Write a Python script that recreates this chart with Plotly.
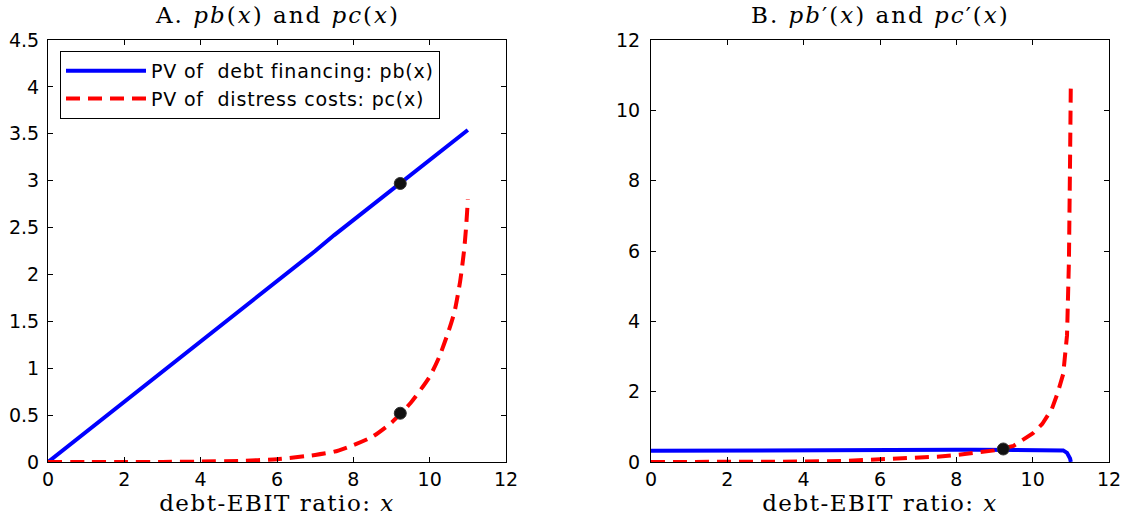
import plotly.graph_objects as go

# ---------------- data ----------------
x_ratio = [0, 1, 2, 3, 4, 5, 6, 7, 7.5, 8, 8.5, 9, 9.5, 10, 10.25, 10.5,
           10.65, 10.8, 10.9, 10.95, 10.98, 11.0]

# Panel A: present values
pb_vals = [0, 0.32, 0.64, 0.97, 1.29, 1.61, 1.93, 2.25, 2.42, 2.58, 2.74,
           2.90, 3.06, 3.22, 3.30, 3.38, 3.43, 3.48, 3.51, 3.52, 3.53, 3.54]
pc_vals = [0, 0, 0, 0.001, 0.004, 0.012, 0.03, 0.075, 0.11, 0.18, 0.27,
           0.42, 0.63, 0.91, 1.12, 1.40, 1.60, 1.93, 2.25, 2.48, 2.66, 2.80]

# Panel B: marginal values
pb_prime = [0.32, 0.32, 0.32, 0.325, 0.33, 0.33, 0.335, 0.34, 0.34, 0.345,
            0.35, 0.35, 0.355, 0.355, 0.355, 0.35, 0.35, 0.33, 0.26, 0.18,
            0.10, 0.0]
pc_prime = [0, 0, 0.002, 0.005, 0.012, 0.03, 0.07, 0.12, 0.15, 0.2, 0.26,
            0.33, 0.46, 0.81, 1.08, 1.5, 1.95, 2.5, 3.6, 5.7, 8.6, 10.8]

# optimum markers
x_opt = [9.23]
pb_opt = [2.97]
pc_opt = [0.52]
marg_opt = [0.37]

x_ticks = [0, 2, 4, 6, 8, 10, 12]
yA_ticks = [0, 0.5, 1, 1.5, 2, 2.5, 3, 3.5, 4, 4.5]
yB_ticks = [0, 2, 4, 6, 8, 10, 12]

names = ["PV of\u00a0\u00a0debt financing: pb(x)",
         "PV of\u00a0\u00a0distress costs: pc(x)"]
titleA = "A. <i>pb</i>(<i>x</i>) and <i>pc</i>(<i>x</i>)"
titleB = "B. <i>pb</i>\u2032(<i>x</i>) and <i>pc</i>\u2032(<i>x</i>)"
xlabel = "debt-EBIT ratio: <i>x</i>"


def spaced(t, px):
    return '<span style="letter-spacing:%spx">%s</span>' % (px, t)


# ---------------- figure ----------------
W, H = 1128, 527
BLUE, RED = "#0000ff", "#ff0000"
SANS = "DejaVu Sans, Arial, sans-serif"
SERIF = "DejaVu Serif, Liberation Serif, serif"

fig = go.Figure()

fig.add_trace(go.Scatter(x=x_ratio, y=pb_vals, mode="lines", name=spaced(names[0], 0.8),
                         line=dict(color=BLUE, width=4), xaxis="x", yaxis="y"))
fig.add_trace(go.Scatter(x=x_ratio, y=pc_vals, mode="lines", name=spaced(names[1], 0.8),
                         line=dict(color=RED, width=4, dash="14px,8px",
                                   shape="spline", smoothing=0.6),
                         xaxis="x", yaxis="y"))
fig.add_trace(go.Scatter(x=x_opt * 2, y=pb_opt + pc_opt, mode="markers",
                         showlegend=False,
                         marker=dict(color="#111111", size=12,
                                     line=dict(color="#333333", width=1)),
                         xaxis="x", yaxis="y"))

fig.add_trace(go.Scatter(x=x_ratio, y=pb_prime, mode="lines", showlegend=False,
                         line=dict(color=BLUE, width=4), xaxis="x2", yaxis="y2"))
fig.add_trace(go.Scatter(x=x_ratio, y=pc_prime, mode="lines", showlegend=False,
                         line=dict(color=RED, width=4, dash="14px,8px"),
                         xaxis="x2", yaxis="y2"))
fig.add_trace(go.Scatter(x=x_opt, y=marg_opt, mode="markers", showlegend=False,
                         marker=dict(color="#111111", size=12,
                                     line=dict(color="#333333", width=1)),
                         xaxis="x2", yaxis="y2"))

axis_common = dict(showline=True, linecolor="black", linewidth=1, mirror="ticks",
                   ticks="inside", ticklen=5, tickcolor="black", tickwidth=1,
                   showgrid=False, zeroline=False, automargin=False,
                   tickfont=dict(family=SANS, size=19, color="black"))

dom_y = [1 - 462 / H, 1 - 40 / H]
dom_xA = [48 / W, 506 / W]
dom_xB = [651 / W, 1109 / W]

fig.update_layout(
    width=W, height=H,
    margin=dict(l=0, r=0, t=0, b=0, autoexpand=False),
    paper_bgcolor="white", plot_bgcolor="white",
    showlegend=True,
    xaxis=dict(domain=dom_xA, range=[0, 12], tickvals=x_ticks, anchor="y",
               title=dict(text=spaced(xlabel, 1.5),
                          font=dict(family=SERIF, size=23, color="black"),
                          standoff=5),
               **axis_common),
    yaxis=dict(domain=dom_y, range=[0, 4.5], tickvals=yA_ticks, anchor="x",
               ticklabelstandoff=4, **axis_common),
    xaxis2=dict(domain=dom_xB, range=[0, 12], tickvals=x_ticks, anchor="y2",
                title=dict(text=spaced(xlabel, 1.5),
                           font=dict(family=SERIF, size=23, color="black"),
                           standoff=5),
                **axis_common),
    yaxis2=dict(domain=dom_y, range=[0, 12], tickvals=yB_ticks, anchor="x2",
                ticklabelstandoff=6, **axis_common),
    legend=dict(x=60 / W, y=1 - 51 / H, xanchor="left", yanchor="top",
                bgcolor="white", bordercolor="black", borderwidth=1,
                font=dict(family=SANS, size=19, color="black"),
                itemwidth=80, tracegroupgap=0),
    annotations=[
        dict(text=spaced(titleA, 2), x=(dom_xA[0] + dom_xA[1]) / 2, y=1 - 15 / H,
             xref="paper", yref="paper", showarrow=False, xanchor="center",
             yanchor="middle", font=dict(family=SERIF, size=23, color="black")),
        dict(text=spaced(titleB, 2), x=(dom_xB[0] + dom_xB[1]) / 2, y=1 - 15 / H,
             xref="paper", yref="paper", showarrow=False, xanchor="center",
             yanchor="middle", font=dict(family=SERIF, size=23, color="black")),
    ],
)

fig.write_html("out.html", config={"displayModeBar": False},
               post_script="document.body.style.margin='0';"
                           "document.body.style.overflow='hidden';")
